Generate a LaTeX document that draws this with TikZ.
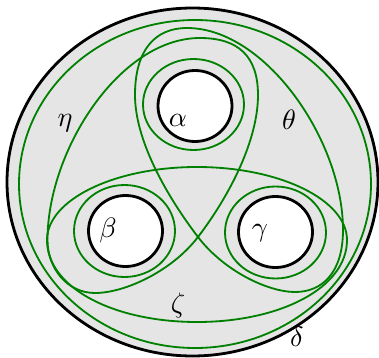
\documentclass[tikz,border=0pt]{standalone}
\usepackage{amsmath}
\usepackage{amssymb}
\tikzset{hole/.style={draw,line width=1pt,fill=white},
	loopcurve/.style={draw=green!50!black,line width=0.65pt}}
\begin{document}
\begin{tikzpicture}[x=3.57pt,y=-3.57pt]
	\useasboundingbox (0,0) rectangle (37.9,35.8);
	% sphere with four holes
	\draw [line width=1pt,fill=gray!20] (19.25,18.2) ellipse [x radius=18.55,y radius=17.4];
	\draw [hole] (19.5,10.6) ellipse [x radius=3.7,y radius=3.55];
	\draw [hole] (12.55,23.1) ellipse [x radius=3.7,y radius=3.55];
	\draw [hole] (27.55,23.2) ellipse [x radius=3.7,y radius=3.55];
	% boundary curves
	\draw [loopcurve] (19.35,10.45) ellipse [x radius=5.05,y radius=4.55];
	\draw [loopcurve] (12.45,23.1) ellipse [x radius=5.05,y radius=4.6];
	\draw [loopcurve] (27.55,23.25) ellipse [x radius=5.05,y radius=4.6];
	\draw [loopcurve] (19.5,18.4) ellipse [x radius=17.6,y radius=16.4];
	\coordinate (X) at (19.8,23.7);
	% eta
	\draw [loopcurve] (20.0,3.8) .. controls (23.8,3.8) and (25.8,5.6) .. (25.8,9.5)
		.. controls (25.8,14.0) and (23.0,19.5) .. (X)
		.. controls (17.2,27.1) and (12.5,29.3) .. (9.5,29.3)
		.. controls (6.7,29.3) and (4.75,26.8) .. (4.75,24.0)
		.. controls (4.75,15.0) and (12.0,3.8) .. (20.0,3.8) -- cycle;
	% theta
	\draw [loopcurve] (18.7,2.8) .. controls (26.5,2.8) and (34.3,14.0) .. (34.3,23.0)
		.. controls (34.3,27.3) and (32.2,29.2) .. (29.5,29.2)
		.. controls (26.8,29.2) and (22.4,27.1) .. (X)
		.. controls (16.6,19.5) and (13.5,14.0) .. (13.5,9.5)
		.. controls (13.5,5.0) and (15.5,2.8) .. (18.7,2.8) -- cycle;
	% zeta
	\draw [loopcurve] (4.7,24.0) .. controls (4.7,20.0) and (11.4,16.7) .. (19.7,16.7)
		.. controls (28.0,16.7) and (34.7,20.0) .. (34.7,24.0)
		.. controls (34.7,28.8) and (28.0,32.2) .. (19.7,32.2)
		.. controls (11.4,32.2) and (4.7,28.8) .. (4.7,24.0) -- cycle;
	% labels
	\node (alpha) at (17.8,12.0) {$\alpha$};
	\node (beta) at (10.8,23.0) {$\beta$};
	\node (gamma) at (26.0,23.3) {$\gamma$};
	\node (eta) at (6.5,12.3) {$\eta$};
	\node (theta) at (28.9,12.0) {$\theta$};
	\node (zeta) at (17.8,30.5) {$\zeta$};
	\node (delta) at (29.7,33.7) {$\delta$};
\end{tikzpicture}
\end{document}
